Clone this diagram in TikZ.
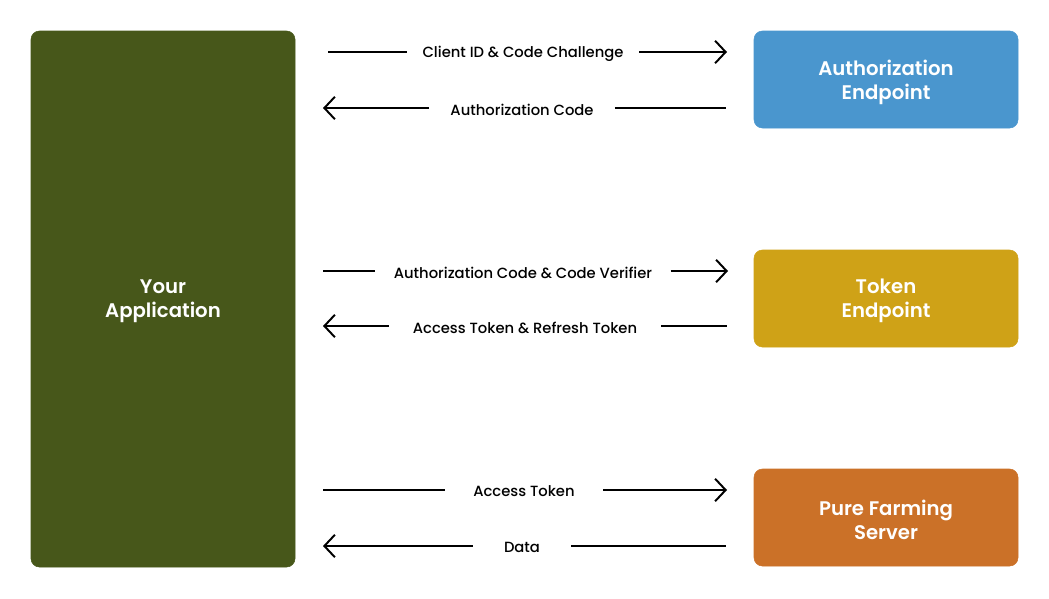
\documentclass[tikz,border=0pt]{standalone}
\usepackage{fontspec}
\setmainfont{Poppins Medium}
\newfontfamily\boxfont{Poppins SemiBold}
\usetikzlibrary{arrows.meta}

\definecolor{appgreen}{HTML}{47571A}
\definecolor{authblue}{HTML}{4A96CE}
\definecolor{tokengold}{HTML}{CFA217}
\definecolor{serverorange}{HTML}{CB7128}

\tikzset{
  box/.style={rounded corners=6pt, text=white, align=center, font=\boxfont\fontsize{14}{17}\selectfont},
  lbl/.style={font=\fontsize{10.5}{12}\selectfont, inner ysep=0pt},
  flow/.style={line width=1.4pt, -{Straight Barb[length=7.5pt, width=16pt, line width=1.4pt]}},
  bar/.style={line width=1.4pt},
}

\begin{document}
\begin{tikzpicture}[x=0.025cm, y=-0.025cm]
    \useasboundingbox (0,0) rectangle (1049,598);

    % boxes
    \filldraw[box, fill=appgreen, draw=appgreen] (31,31) rectangle (295,567);
    \node[box] (app) at (163,301) {Your\\Application};
    \filldraw[box, fill=authblue, draw=authblue] (754,31) rectangle (1018,128);
    \node[box] (auth) at (886,82) {Authorization\\Endpoint};
    \filldraw[box, fill=tokengold, draw=tokengold] (754,250) rectangle (1018,347);
    \node[box] (token) at (886,301) {Token\\Endpoint};
    \filldraw[box, fill=serverorange, draw=serverorange] (754,469) rectangle (1018,566);
    \node[box] (server) at (886,520) {Pure Farming\\Server};

    % line ends
    \coordinate (a1) at (328,52);  \coordinate (b1) at (727,52);
    \coordinate (a2) at (323,108); \coordinate (b2) at (726,108);
    \coordinate (a3) at (323,271); \coordinate (b3) at (728,271);
    \coordinate (a4) at (323,326); \coordinate (b4) at (727,326);
    \coordinate (a5) at (323,490); \coordinate (b5) at (727,490);
    \coordinate (a6) at (323,546); \coordinate (b6) at (726,546);

    % labels
    \node[lbl, inner xsep=11pt] (l1) at (523,53.5) {Client ID \& Code Challenge};
    \node[lbl, inner xsep=15pt] (l2) at (522,109.5) {Authorization Code};
    \node[lbl, inner xsep=13pt] (l3) at (523,272.5) {Authorization Code \& Code Verifier};
    \node[lbl, inner xsep=17pt] (l4) at (525,327.5) {Access Token \& Refresh Token};
    \node[lbl, inner xsep=20pt] (l5) at (524,491.5) {Access Token};
    \node[lbl, inner xsep=22pt] (l6) at (522,547.5) {Data};

    % arrows
    \draw[bar] (a1) -- (l1.west |- a1);
    \draw[flow] (l1.east |- b1) -- (b1);
    \draw[flow] (l2.west |- a2) -- (a2);
    \draw[bar] (l2.east |- b2) -- (b2);
    \draw[bar] (a3) -- (l3.west |- a3);
    \draw[flow] (l3.east |- b3) -- (b3);
    \draw[flow] (l4.west |- a4) -- (a4);
    \draw[bar] (l4.east |- b4) -- (b4);
    \draw[bar] (a5) -- (l5.west |- a5);
    \draw[flow] (l5.east |- b5) -- (b5);
    \draw[flow] (l6.west |- a6) -- (a6);
    \draw[bar] (l6.east |- b6) -- (b6);
\end{tikzpicture}
\end{document}
